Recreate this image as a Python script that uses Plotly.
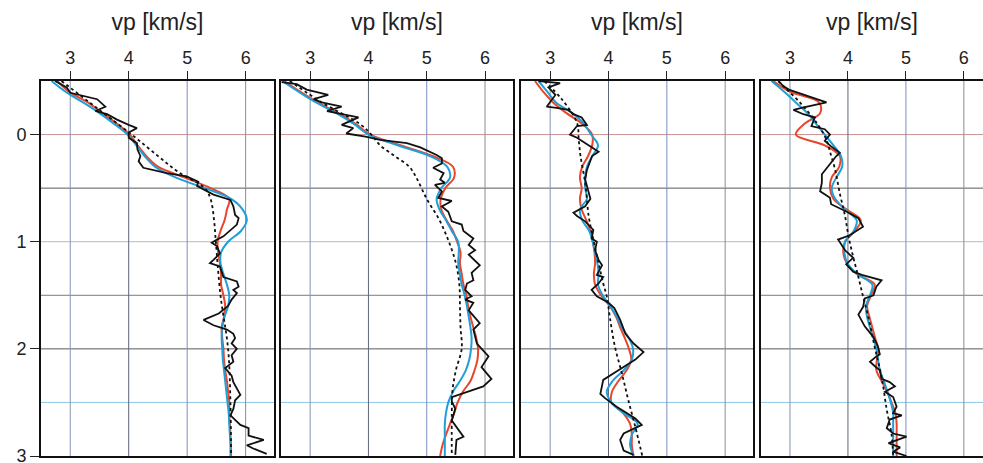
import plotly.graph_objects as go

# ---------------- data ----------------
depth_grid = [-0.5, -0.4, -0.3, -0.2, -0.1, 0.0, 0.1, 0.2, 0.3, 0.4, 0.5, 0.6, 0.7, 0.8, 0.9,
              1.0, 1.1, 1.2, 1.3, 1.4, 1.5, 1.6, 1.7, 1.8, 1.9, 2.0, 2.1, 2.2, 2.3, 2.4,
              2.5, 2.6, 2.7, 2.8, 2.9, 3.0]

# panel 1
red1 = [2.78, 2.98, 3.30, 3.55, 3.80, 4.02, 4.15, 4.30, 4.50, 4.95, 5.40, 5.72, 5.68, 5.64, 5.57,
        5.52, 5.53, 5.56, 5.58, 5.58, 5.62, 5.65, 5.63, 5.59, 5.60, 5.62, 5.63, 5.65, 5.68, 5.70,
        5.72, 5.72, 5.73, 5.74, 5.75, 5.75]
blue1 = [2.68, 2.92, 3.22, 3.50, 3.75, 3.98, 4.13, 4.27, 4.45, 4.80, 5.30, 5.75, 5.95, 6.02, 5.92,
         5.70, 5.58, 5.57, 5.62, 5.68, 5.72, 5.70, 5.64, 5.60, 5.59, 5.60, 5.61, 5.63, 5.65, 5.67,
         5.69, 5.71, 5.72, 5.73, 5.74, 5.74]
init1_depth = [-0.5, -0.25, 0.0, 0.2, 0.35, 0.5, 0.6, 0.8, 1.0, 1.5, 2.0, 2.5, 3.0]
init1 = [2.85, 3.45, 4.05, 4.50, 4.85, 5.30, 5.40, 5.46, 5.49, 5.57, 5.70, 5.74, 5.75]
obs1 = [(-0.5, 2.74), (-0.44, 2.94), (-0.39, 3.0), (-0.36, 3.23), (-0.33, 3.46), (-0.26, 3.6),
        (-0.22, 3.43), (-0.19, 3.63), (-0.14, 3.8), (-0.09, 4.0), (-0.06, 4.14), (-0.02, 4.0),
        (0.03, 4.0), (0.08, 4.14), (0.14, 4.15), (0.2, 4.2), (0.25, 4.17), (0.31, 4.25),
        (0.36, 4.65), (0.39, 4.99), (0.44, 5.19), (0.48, 5.17), (0.56, 5.45), (0.61, 5.74),
        (0.67, 5.79), (0.75, 5.82), (0.78, 5.88), (0.84, 5.85), (0.89, 5.74), (0.95, 5.62),
        (0.98, 5.51), (1.01, 5.42), (1.04, 5.51), (1.11, 5.56), (1.17, 5.45), (1.2, 5.39),
        (1.23, 5.56), (1.33, 5.62), (1.37, 5.85), (1.42, 5.88), (1.45, 5.79), (1.48, 5.85),
        (1.54, 5.76), (1.6, 5.7), (1.67, 5.54), (1.73, 5.28), (1.78, 5.45), (1.82, 5.68),
        (1.86, 5.79), (1.9, 5.82), (1.95, 5.76), (2.0, 5.85), (2.06, 5.76), (2.12, 5.79),
        (2.18, 5.65), (2.25, 5.76), (2.31, 5.79), (2.43, 5.91), (2.48, 5.82), (2.56, 5.79),
        (2.62, 5.74), (2.71, 5.91), (2.74, 6.05), (2.81, 6.05), (2.85, 6.31), (2.9, 6.02),
        (2.93, 6.13), (2.98, 6.36)]

# panel 2
red2 = [2.55, 2.83, 3.13, 3.48, 3.78, 4.03, 4.55, 5.10, 5.45, 5.47, 5.32, 5.24, 5.25, 5.34, 5.45,
        5.52, 5.58, 5.57, 5.60, 5.63, 5.68, 5.71, 5.75, 5.80, 5.85, 5.88, 5.87, 5.82, 5.75, 5.62,
        5.53, 5.47, 5.40, 5.33, 5.27, 5.23]
blue2 = [2.52, 2.80, 3.10, 3.45, 3.75, 4.00, 4.50, 5.05, 5.35, 5.40, 5.25, 5.17, 5.22, 5.33, 5.43,
         5.54, 5.55, 5.54, 5.57, 5.60, 5.65, 5.69, 5.72, 5.75, 5.77, 5.76, 5.73, 5.67, 5.57, 5.45,
         5.37, 5.33, 5.31, 5.31, 5.31, 5.31]
init2_depth = [-0.5, -0.3, -0.1, 0.0, 0.1, 0.2, 0.3, 0.4, 0.6, 0.8, 1.0, 1.2, 1.4, 1.6, 1.8,
               2.0, 2.2, 2.4, 2.6, 3.0]
init2 = [2.65, 3.20, 3.85, 4.05, 4.20, 4.45, 4.70, 4.82, 5.00, 5.22, 5.38, 5.50, 5.56, 5.57, 5.58,
         5.60, 5.50, 5.44, 5.43, 5.43]
obs2 = [(-0.49, 2.51), (-0.47, 2.77), (-0.42, 2.94), (-0.37, 3.31), (-0.33, 3.06), (-0.3, 3.2),
        (-0.26, 3.54), (-0.22, 3.29), (-0.2, 3.46), (-0.16, 3.83), (-0.09, 3.54), (-0.06, 3.74),
        (-0.01, 3.62), (0.02, 3.95), (0.05, 4.2), (0.08, 4.66), (0.12, 4.89), (0.17, 5.11),
        (0.19, 5.17), (0.22, 5.26), (0.27, 5.26), (0.31, 5.11), (0.36, 5.29), (0.42, 5.23),
        (0.45, 5.31), (0.47, 5.14), (0.53, 5.26), (0.59, 5.2), (0.62, 5.43), (0.67, 5.26),
        (0.72, 5.37), (0.81, 5.43), (0.84, 5.6), (0.9, 5.63), (0.97, 5.8), (1.03, 5.72),
        (1.08, 5.83), (1.12, 5.72), (1.22, 5.91), (1.29, 5.77), (1.36, 5.8), (1.39, 5.69),
        (1.45, 5.66), (1.51, 5.77), (1.54, 5.66), (1.57, 5.8), (1.64, 5.72), (1.76, 5.91),
        (1.82, 5.8), (1.95, 5.86), (2.07, 6.06), (2.17, 5.94), (2.28, 6.11), (2.35, 5.97),
        (2.45, 5.43), (2.49, 5.43), (2.56, 5.49), (2.67, 5.43), (2.82, 5.63), (2.85, 5.51),
        (2.99, 5.49)]

# panel 3
red3 = [2.74, 2.88, 3.05, 3.28, 3.55, 3.72, 3.72, 3.65, 3.55, 3.51, 3.54, 3.51, 3.54, 3.62, 3.69,
        3.73, 3.76, 3.77, 3.75, 3.77, 3.87, 4.02, 4.13, 4.20, 4.28, 4.35, 4.39, 4.31, 4.17, 4.06,
        4.05, 4.25, 4.37, 4.40, 4.40, 4.43]
blue3 = [2.80, 2.95, 3.10, 3.38, 3.58, 3.70, 3.82, 3.72, 3.63, 3.60, 3.60, 3.63, 3.51, 3.55, 3.67,
         3.73, 3.77, 3.81, 3.83, 3.82, 3.90, 4.03, 4.14, 4.23, 4.35, 4.42, 4.40, 4.26, 4.07, 3.97,
         4.05, 4.26, 4.50, 4.40, 4.37, 4.43]
init3_depth = [-0.5, -0.33, -0.11, 0.05, 0.2, 0.45, 0.76, 0.98, 1.2, 1.39, 1.51, 1.73, 1.98,
               2.23, 2.48, 2.73, 3.0]
init3 = [2.90, 3.20, 3.46, 3.49, 3.52, 3.60, 3.66, 3.74, 3.83, 3.91, 3.97, 4.03, 4.11, 4.23,
         4.34, 4.46, 4.58]
obs3 = [(-0.5, 2.8), (-0.48, 3.17), (-0.44, 2.97), (-0.37, 3.09), (-0.26, 2.94), (-0.25, 3.11),
        (-0.23, 3.31), (-0.19, 3.4), (-0.16, 3.54), (-0.09, 3.63), (-0.08, 3.46), (0.0, 3.34),
        (0.03, 3.46), (0.11, 3.69), (0.16, 3.83), (0.2, 3.72), (0.33, 3.63), (0.42, 3.6),
        (0.55, 3.66), (0.6, 3.69), (0.67, 3.6), (0.73, 3.4), (0.76, 3.46), (0.81, 3.6),
        (0.89, 3.74), (0.97, 3.71), (1.0, 3.8), (1.08, 3.77), (1.17, 3.83), (1.22, 3.89),
        (1.31, 3.8), (1.33, 3.91), (1.39, 3.83), (1.45, 3.71), (1.51, 3.8), (1.57, 4.0),
        (1.62, 4.1), (1.73, 4.2), (1.86, 4.29), (1.95, 4.43), (2.03, 4.6), (2.1, 4.46),
        (2.2, 4.17), (2.29, 3.91), (2.42, 3.86), (2.46, 3.94), (2.54, 4.14), (2.59, 4.29),
        (2.65, 4.46), (2.71, 4.57), (2.76, 4.37), (2.79, 4.26), (2.85, 4.2), (2.95, 4.26),
        (2.99, 4.43)]

# panel 4
red4 = [2.71, 3.00, 3.50, 3.52, 3.25, 3.10, 3.60, 3.86, 3.85, 3.72, 3.69, 3.75, 3.98, 4.22, 4.12,
        3.95, 3.92, 3.98, 4.15, 4.46, 4.40, 4.33, 4.37, 4.42, 4.47, 4.52, 4.50, 4.49, 4.58, 4.68,
        4.75, 4.82, 4.84, 4.84, 4.84, 4.84]
blue4 = [2.68, 2.90, 3.10, 3.30, 3.45, 3.60, 3.75, 3.88, 3.90, 3.80, 3.72, 3.78, 3.95, 4.15, 4.10,
         3.95, 3.94, 3.99, 4.16, 4.42, 4.38, 4.31, 4.33, 4.38, 4.44, 4.49, 4.52, 4.55, 4.62, 4.68,
         4.74, 4.78, 4.78, 4.78, 4.78, 4.78]
init4_depth = [-0.5, -0.45, -0.3, -0.11, 0.05, 0.16, 0.33, 0.55, 0.76, 0.95, 1.14, 1.33, 1.51,
               1.7, 1.98, 2.26, 2.57, 2.79, 3.0]
init4 = [2.80, 2.89, 3.17, 3.46, 3.63, 3.69, 3.78, 3.86, 3.95, 4.01, 4.09, 4.18, 4.26, 4.35,
         4.46, 4.58, 4.67, 4.75, 4.78]
obs4 = [(-0.5, 2.8), (-0.45, 2.89), (-0.42, 2.98), (-0.36, 3.32), (-0.3, 3.63), (-0.25, 3.2),
        (-0.23, 3.06), (-0.19, 3.23), (-0.16, 3.43), (-0.08, 3.37), (-0.05, 3.6), (0.0, 3.69),
        (0.06, 3.6), (0.11, 3.71), (0.17, 3.86), (0.2, 3.8), (0.27, 3.69), (0.37, 3.55),
        (0.45, 3.55), (0.53, 3.52), (0.59, 3.69), (0.65, 3.71), (0.72, 3.98), (0.78, 4.18),
        (0.86, 4.26), (0.94, 4.03), (0.98, 3.83), (1.03, 3.89), (1.08, 3.95), (1.15, 4.09),
        (1.21, 3.97), (1.28, 4.09), (1.31, 4.24), (1.36, 4.58), (1.42, 4.49), (1.5, 4.44),
        (1.53, 4.29), (1.61, 4.26), (1.68, 4.18), (1.79, 4.29), (1.89, 4.44), (1.98, 4.52),
        (2.05, 4.55), (2.07, 4.49), (2.12, 4.38), (2.16, 4.46), (2.2, 4.55), (2.28, 4.58),
        (2.31, 4.72), (2.35, 4.81), (2.4, 4.64), (2.45, 4.78), (2.54, 4.84), (2.6, 4.78),
        (2.62, 4.93), (2.66, 4.72), (2.74, 4.67), (2.79, 4.78), (2.82, 5.01), (2.88, 4.7),
        (2.92, 4.9), (2.96, 4.78), (3.0, 5.01)]

x_ticks = [3, 4, 5, 6]
y_ticks = [0, 1, 2, 3]
x_title = "vp [km/s]"

h_grid = [0.0, 0.5, 1.0, 1.5, 2.0, 2.5]
h_grid_colors = ["#c89090", "#5a5a5a", "#b4bcc4", "#7a7a7a", "#5a5a5a", "#8cc8e6"]
v_grid = [3, 4, 5, 6]
v_grid_colors = ["#8294b4", "#5e6678", "#7c8cc0", "#8c8c8c"]

panels = [
    (red1, blue1, init1_depth, init1, obs1),
    (red2, blue2, init2_depth, init2, obs2),
    (red3, blue3, init3_depth, init3, obs3),
    (red4, blue4, init4_depth, init4, obs4),
]

# ---------------- figure ----------------
W, H = 983, 463
ML, MR, MT, MB = 41, 0, 81, 7
pw = W - ML - MR
px_edges = [(41, 274), (281, 513), (521, 753), (761, 983)]
x_ranges = [[2.5, 6.485], [2.5, 6.48], [2.5, 6.477], [2.5, 6.33]]

RED = "#e8462c"
BLUE = "#1e9fd8"
BLACK = "#111111"
FONT = "Liberation Sans, Arial, sans-serif"

fig = go.Figure()
layout = dict(
    width=W, height=H,
    margin=dict(l=ML, r=MR, t=MT, b=MB, pad=0, autoexpand=False),
    paper_bgcolor="white", plot_bgcolor="white",
    showlegend=False,
    font=dict(family=FONT, color="#222222", size=16),
)
shapes = []

for i, (red, blue, idep, ival, obs) in enumerate(panels):
    n = i + 1
    xs = "x" if n == 1 else f"x{n}"
    ys = "y" if n == 1 else f"y{n}"
    dom = [(px_edges[i][0] - ML) / pw, (px_edges[i][1] - ML) / pw]
    layout[f"xaxis{'' if n == 1 else n}"] = dict(
        domain=dom, range=x_ranges[i], side="top", anchor=ys, automargin=False,
        tickvals=x_ticks, ticks="outside", ticklen=8, tickwidth=1.2, tickcolor="#222",
        ticklabelstandoff=0,
        showline=True, linecolor=BLACK, linewidth=1.6, mirror=True,
        showgrid=False, zeroline=False, tickfont=dict(size=18),
        title=dict(text=x_title, font=dict(size=23), standoff=11),
    )
    yax = dict(
        domain=[0, 1], range=[3, -0.5], anchor=xs, automargin=False,
        showline=True, linecolor=BLACK, linewidth=1.6, mirror=(n != 4),
        showgrid=False, zeroline=False,
    )
    if n == 1:
        yax.update(tickvals=y_ticks, ticks="outside", ticklen=9, tickwidth=1.2, tickcolor="#222",
                   ticklabelstandoff=0, tickfont=dict(size=18), ticklabeloverflow="allow")
    else:
        yax.update(showticklabels=False, ticks="")
    layout[f"yaxis{'' if n == 1 else n}"] = yax

    for d, c in zip(h_grid, h_grid_colors):
        shapes.append(dict(type="line", xref=f"{xs} domain", yref=ys, x0=0, x1=1, y0=d, y1=d,
                           line=dict(color=c, width=1), layer="below"))
    for v, c in zip(v_grid, v_grid_colors):
        shapes.append(dict(type="line", xref=xs, yref=f"{ys} domain", x0=v, x1=v, y0=0, y1=1,
                           line=dict(color=c, width=1), layer="below"))

    fig.add_trace(go.Scatter(x=red, y=depth_grid, mode="lines", xaxis=xs, yaxis=ys,
                             line=dict(color=RED, width=2, shape="spline")))
    fig.add_trace(go.Scatter(x=blue, y=depth_grid, mode="lines", xaxis=xs, yaxis=ys,
                             line=dict(color=BLUE, width=2, shape="spline")))
    fig.add_trace(go.Scatter(x=ival, y=idep, mode="lines", xaxis=xs, yaxis=ys,
                             line=dict(color=BLACK, width=1.8, dash="dot", shape="spline")))
    fig.add_trace(go.Scatter(x=[p[1] for p in obs], y=[p[0] for p in obs], mode="lines",
                             xaxis=xs, yaxis=ys, line=dict(color=BLACK, width=1.8)))

layout["shapes"] = shapes
fig.update_layout(**layout)
fig.write_html("out.html")
